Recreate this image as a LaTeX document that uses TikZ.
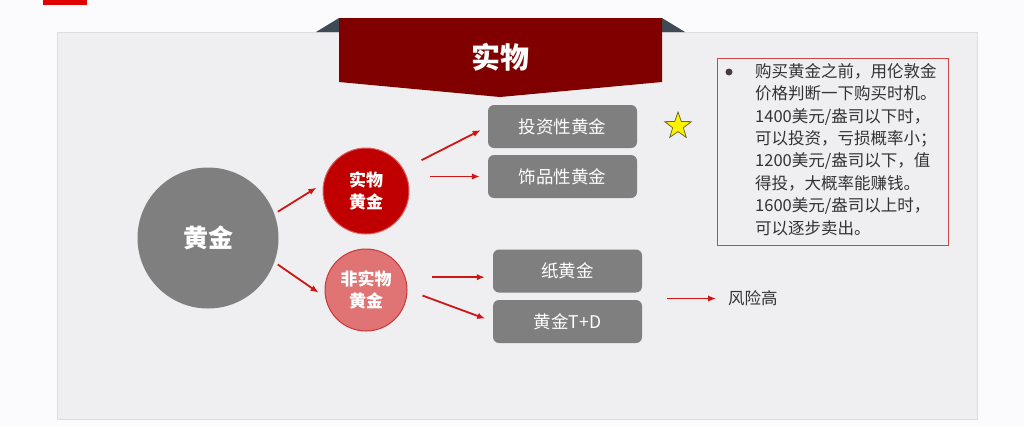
\documentclass[tikz,border=0pt]{standalone}
\usepackage{fontspec}
\setmainfont{Noto Sans CJK SC}
\usetikzlibrary{arrows.meta,shapes.geometric}
\definecolor{pagebg}{HTML}{FBFBFD}
\definecolor{panelgray}{HTML}{EFEFF1}
\definecolor{panelline}{HTML}{DDDDE0}
\definecolor{bannerred}{HTML}{800000}
\definecolor{sideslate}{HTML}{3E4A54}
\definecolor{tabred}{HTML}{E00000}
\definecolor{ballgray}{HTML}{7F7F7F}
\definecolor{itemgray}{HTML}{7F7F7F}
\definecolor{realred}{HTML}{C00000}
\definecolor{realedge}{HTML}{E06060}
\definecolor{paperred}{HTML}{E07373}
\definecolor{paperedge}{HTML}{C83838}
\definecolor{arrowred}{HTML}{D01515}
\definecolor{boxred}{HTML}{C84848}
\definecolor{textdark}{HTML}{333333}
\definecolor{dotgray}{HTML}{4A3C3C}
\definecolor{staryellow}{HTML}{FFF200}
\definecolor{starolive}{HTML}{6B6B2A}
\begin{document}
\begin{tikzpicture}[x=1pt, y=-1pt,
    ball/.style={circle, align=center, text=white, inner sep=0pt,
                 font=\bfseries\fontsize{17}{22}\selectfont},
    item/.style={rounded corners=6pt, fill=itemgray, text=white,
                 minimum width=149pt, minimum height=43pt,
                 font=\fontsize{17.5}{17.5}\selectfont},
    arr/.style={-{Latex[length=8pt,width=6.5pt]}, draw=arrowred, line width=1.8pt},
    note/.style={font=\fontsize{16.5}{22.4}\selectfont, text=textdark}
  ]
    \fill[pagebg] (0,0) rectangle (1024,426);
    \fill[tabred] (43,0) rectangle (87,5);
    \filldraw[fill=panelgray, draw=panelline] (57,32) rectangle (977,419);

    \fill[sideslate] (316,32) -- (339,18) -- (339,32) -- cycle;
    \fill[sideslate] (685,32) -- (662,18) -- (662,32) -- cycle;
    \fill[bannerred] (339,18) -- (662,18) -- (662,82) -- (500,97) -- (339,82) -- cycle;
    \node[text=white, font=\bfseries\fontsize{29}{29}\selectfont] (title) at (500,57) {实物};

    \node[ball, fill=ballgray, minimum size=141pt, font=\bfseries\fontsize{25}{25}\selectfont] (gold) at (208,238) {黄金};
    \node[ball, fill=realred, draw=realedge, line width=1pt, minimum size=86pt] (real) at (366,191) {实物\\黄金};
    \node[ball, fill=paperred, draw=paperedge, line width=1pt, minimum size=82pt] (paper) at (366,290) {非实物\\黄金};

    \node[item] (invest) at (562.5,126.5) {投资性黄金};
    \node[item] (jewel)  at (562.5,176.5) {饰品性黄金};
    \node[item] (paperg) at (567.5,271)   {纸黄金};
    \node[item] (td)     at (567.5,321.5) {黄金T+D};

    \node[anchor=west, inner sep=2pt, font=\fontsize{16.5}{16.5}\selectfont, text=textdark] (risk) at (726,298.5) {风险高};

    \node[star, star points=5, star point ratio=2.5, fill=staryellow, draw=starolive,
          line width=0.8pt, minimum size=28pt, inner sep=0pt] (star) at (678,126) {};

    \node[draw=boxred, line width=1pt, minimum width=231pt, minimum height=187pt,
          anchor=north west, inner sep=0pt] (tipbox) at (717,58) {};
    \node[circle, fill=dotgray, inner sep=0pt, minimum size=7pt] (dot) at (729,72) {};
    \node[note, anchor=north west, align=left, inner sep=0pt] (tip) at (755,63)
      {购买黄金之前，用伦敦金\\价格判断一下购买时机。\\1400美元/盎司以下时，\\可以投资，亏损概率小；\\1200美元/盎司以下，值\\得投，大概率能赚钱。\\1600美元/盎司以上时，\\可以逐步卖出。};

    \draw[arr, shorten <=4pt, shorten >=8pt] (gold.20) -- (real.170);
    \draw[arr, shorten <=4pt, shorten >=8pt] (gold.-20) -- (paper.190);
    \draw[arr, shorten <=20pt, shorten >=8pt] (real.30) -- (invest.west);
    \draw[arr, shorten <=20pt, shorten >=8pt] (real.east |- jewel.west) -- (jewel.west);
    \draw[arr, shorten <=27pt, shorten >=8pt] (paper.18) -- (paper.18 -| paperg.west);
    \draw[arr, shorten <=16pt, shorten >=8pt] (paper.east) -- (td.west);
    \draw[arr, shorten <=25pt, shorten >=10pt] (td.east |- risk.west) -- (risk.west);
  \end{tikzpicture}
\end{document}
